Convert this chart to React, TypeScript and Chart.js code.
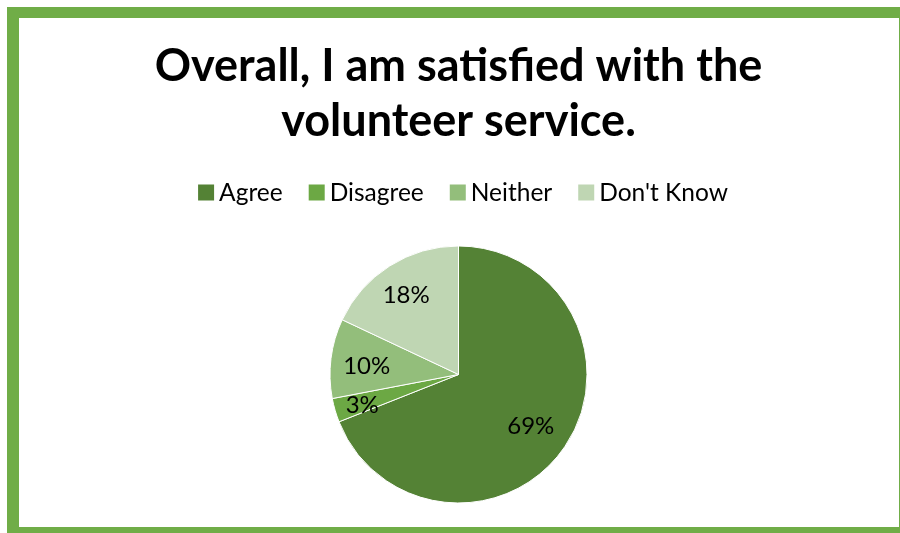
import React, { useEffect, useRef } from "react";
import { Chart, registerables } from "chart.js";

Chart.register(...registerables);

const categories = ["Agree", "Disagree", "Neither", "Don't Know"];
const values = [69, 3, 10, 18];
const colors = ["#548235", "#6CA844", "#93BE7B", "#BFD6B3"];
const titleLines = ["Overall, I am satisfied with the", "volunteer service."];
const labelRadiusFrac = [0.68, 0.78, 0.72, 0.76];

const FRAME = "#70AD47";
const FONT = "Lato, 'Open Sans', sans-serif";

const framePlugin = {
  id: "frame",
  beforeDraw(chart: any) {
    const ctx = chart.ctx;
    const w = chart.width;
    const h = chart.height;
    ctx.save();
    ctx.fillStyle = "#ffffff";
    ctx.fillRect(0, 0, w, h);
    ctx.fillStyle = FRAME;
    ctx.fillRect(7, 7, w - 7, 11);
    ctx.fillRect(7, 7, 12, h - 7);
    ctx.fillRect(w - 1, 7, 1, h - 7);
    ctx.fillRect(7, h - 6, w - 7, 6);
    ctx.restore();
  },
};

const legendPlugin = {
  id: "customLegend",
  afterDraw(chart: any) {
    const ctx = chart.ctx;
    const ds = chart.data.datasets[0];
    const labels = chart.data.labels as string[];
    const box = 16;
    const gapBoxText = 5;
    const gapItems = 26;
    const cy = 192.5;
    ctx.save();
    ctx.font = `24.5px ${FONT}`;
    ctx.textBaseline = "middle";
    ctx.textAlign = "left";
    const widths = labels.map((l) => ctx.measureText(l).width);
    let total = 0;
    widths.forEach((tw, i) => {
      total += box + gapBoxText + tw + (i < widths.length - 1 ? gapItems : 0);
    });
    let x = 463 - total / 2;
    labels.forEach((l, i) => {
      ctx.fillStyle = ds.backgroundColor[i];
      ctx.fillRect(x, cy - box / 2, box, box);
      x += box + gapBoxText;
      ctx.fillStyle = "#000000";
      ctx.fillText(l, x, cy + 1);
      x += widths[i] + gapItems;
    });
    ctx.restore();
  },
};

const dataLabelPlugin = {
  id: "pieLabels",
  afterDatasetsDraw(chart: any) {
    const ctx = chart.ctx;
    const meta = chart.getDatasetMeta(0);
    const data = chart.data.datasets[0].data as number[];
    const total = data.reduce((a, b) => a + b, 0);
    ctx.save();
    ctx.font = `24px ${FONT}`;
    ctx.fillStyle = "#000000";
    ctx.textAlign = "center";
    ctx.textBaseline = "middle";
    meta.data.forEach((arc: any, i: number) => {
      const p = arc.getProps(["x", "y", "startAngle", "endAngle", "outerRadius"], true);
      const mid = (p.startAngle + p.endAngle) / 2;
      const r = p.outerRadius * labelRadiusFrac[i];
      const tx = p.x + Math.cos(mid) * r;
      const ty = p.y + Math.sin(mid) * r + 3;
      ctx.fillText(Math.round((data[i] / total) * 100) + "%", tx, ty);
    });
    ctx.restore();
  },
};

export default function App() {
  const ref = useRef<HTMLCanvasElement>(null);
  useEffect(() => {
    if (!ref.current) return;
    const chart = new Chart(ref.current, {
      type: "pie",
      data: {
        labels: categories,
        datasets: [
          {
            data: values,
            backgroundColor: colors,
            borderColor: "#ffffff",
            borderWidth: 1,
            radius: 128.5,
          } as any,
        ],
      },
      options: {
        responsive: false,
        animation: false,
        layout: { padding: { top: 17, left: 18, right: 1, bottom: 0 } },
        plugins: {
          legend: { display: false },
          tooltip: { enabled: false },
          title: {
            display: true,
            text: titleLines,
            color: "#000000",
            font: { family: FONT, size: 45, weight: "bold", lineHeight: 1.222 },
            padding: { top: 22, bottom: 67 },
          },
        },
      },
      plugins: [framePlugin, legendPlugin, dataLabelPlugin],
    });
    return () => chart.destroy();
  }, []);
  return (
    <div style={{ position: "absolute", left: 0, top: 0, width: 900, height: 533 }}>
      <canvas ref={ref} width={900} height={533} style={{ display: "block" }} />
    </div>
  );
}
